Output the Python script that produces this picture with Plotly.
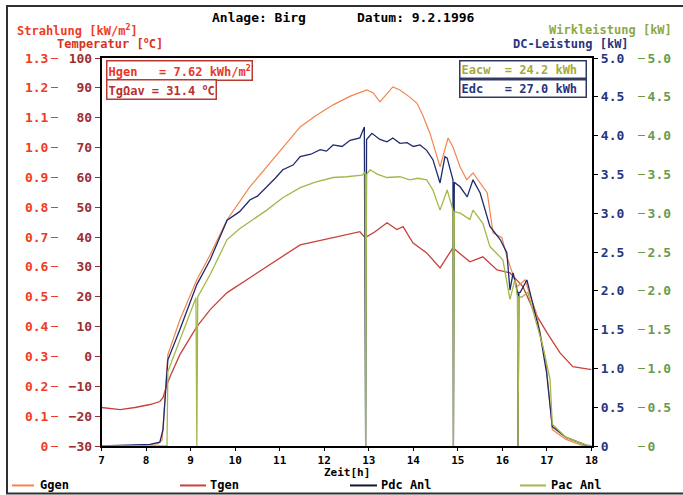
import plotly.graph_objects as go

# ---------------- data ----------------
hour_ticks = [7, 8, 9, 10, 11, 12, 13, 14, 15, 16, 17, 18]

# Ggen - irradiance [kW/m2]
t_ggen = [7.0, 7.9, 8.1, 8.27, 8.36, 8.38, 8.45, 8.49, 8.76, 9.14, 9.44, 9.82, 10.33, 10.71,
          11.07, 11.46, 11.8, 12.2, 12.6, 12.96, 13.1, 13.25, 13.54, 13.7, 13.92, 14.08, 14.21,
          14.37, 14.44, 14.6, 14.78, 14.89, 15.05, 15.2, 15.34, 15.5, 15.66, 15.79, 15.99, 16.1,
          16.22, 16.33, 16.51, 16.6, 16.76, 16.98, 17.12, 17.43, 17.79, 17.97]
ggen = [0, 0, 0.005, 0.008, 0.02, 0.055, 0.222, 0.306, 0.423, 0.557, 0.641, 0.758, 0.868, 0.935,
        1.002, 1.069, 1.106, 1.143, 1.173, 1.193, 1.183, 1.153, 1.203, 1.193, 1.169, 1.149, 1.109,
        1.049, 1.015, 0.935, 1.032, 1.002, 0.935, 0.892, 0.915, 0.882, 0.848, 0.714, 0.698, 0.634,
        0.581, 0.534, 0.557, 0.514, 0.447, 0.279, 0.055, 0.022, 0.002, 0]

# Tgen - module temperature [deg C]
t_tgen = [7.0, 7.42, 7.75, 8.09, 8.31, 8.38, 8.47, 8.54, 8.76, 9.14, 9.44, 9.82, 10.33, 10.71,
          11.07, 11.46, 12.2, 12.8, 12.92, 13.14, 13.41, 13.63, 13.77, 13.99, 14.3, 14.6, 14.89,
          15.27, 15.56, 15.88, 16.17, 16.46, 16.69, 17.0, 17.29, 17.58, 18.0]
tgen = [-17.1, -17.8, -17.1, -16.1, -15.1, -13.8, -9.4, -6.7, 0.6, 10.0, 15.7, 21.4, 26.4, 30.1,
        33.7, 37.4, 39.8, 41.8, 39.8, 41.8, 44.8, 42.5, 43.5, 38.1, 34.7, 29.7, 36.4,
        31.7, 33.4, 29.0, 28.0, 23.4, 15.7, 8.0, 1.3, -3.4, -4.4]

# Pdc Anl - DC power [kW]
t_pdc = [7.0, 8.09, 8.31, 8.38, 8.45, 8.49, 8.76, 9.14, 9.44, 9.82, 10.1, 10.33, 10.5, 10.71,
         10.9, 11.07, 11.3, 11.46, 11.7, 11.91, 12.05, 12.2, 12.4, 12.58, 12.8, 12.9, 12.93,
         12.95, 13.07, 13.25, 13.41, 13.54, 13.7, 13.86, 14.0, 14.15, 14.3, 14.44, 14.6, 14.71,
         14.76, 14.89, 14.9, 14.92, 15.05, 15.21, 15.34, 15.5, 15.72, 15.95, 16.1, 16.17, 16.24,
         16.34, 16.35, 16.37, 16.4, 16.55, 16.66, 16.84, 16.99, 17.12, 17.43, 17.88, 18.0]
pdc = [0, 0.02, 0.05, 0.21, 0.79, 1.11, 1.50, 2.08, 2.40, 2.91, 3.02, 3.17, 3.22, 3.34,
       3.45, 3.56, 3.62, 3.73, 3.76, 3.82, 3.80, 3.88, 3.86, 3.94, 3.97, 4.11, 0,
       3.95, 4.03, 3.95, 3.92, 3.97, 3.90, 3.91, 3.86, 3.88, 3.81, 3.69, 3.39, 3.73,
       3.71, 3.43, 0, 3.40, 3.34, 3.21, 3.43, 3.26, 2.83, 2.66, 2.49, 2.01, 2.23,
       1.98, 0, 1.98, 1.98, 2.14, 1.89, 1.46, 0.95, 0.25, 0.11, 0.01, 0]

# Pac Anl - AC power [kW]
t_pac = [7.0, 8.31, 8.47, 8.49, 8.76, 9.12, 9.14, 9.16, 9.44, 9.82, 10.1, 10.33, 10.71, 11.07,
         11.46, 11.8, 12.2, 12.5, 12.85, 12.92, 12.93, 12.95, 13.03, 13.2, 13.41, 13.7, 13.92,
         14.1, 14.3, 14.44, 14.6, 14.76, 14.89, 14.9, 14.92, 15.05, 15.27, 15.34, 15.56, 15.72,
         16.01, 16.17, 16.28, 16.34, 16.35, 16.37, 16.44, 16.57, 16.69, 16.91, 17.07, 17.12,
         17.43, 17.88, 18.0]
pac = [0, 0, 0, 0.96, 1.37, 1.91, 0, 1.92, 2.21, 2.66, 2.80, 2.89, 3.04, 3.20,
       3.33, 3.40, 3.46, 3.47, 3.49, 3.53, 0, 3.50, 3.56, 3.50, 3.46, 3.47, 3.43,
       3.45, 3.43, 3.30, 3.04, 3.30, 3.04, 0, 3.02, 3.00, 2.92, 3.04, 2.87, 2.57,
       2.40, 1.89, 2.14, 1.92, 0, 1.92, 1.92, 1.98, 1.72, 1.28, 0.86, 0.28,
       0.11, 0.01, 0]

strahlung_ticks = [0, 0.1, 0.2, 0.3, 0.4, 0.5, 0.6, 0.7, 0.8, 0.9, 1.0, 1.1, 1.2, 1.3]
strahlung_labels = ["0", "0.1", "0.2", "0.3", "0.4", "0.5", "0.6", "0.7", "0.8", "0.9",
                    "1.0", "1.1", "1.2", "1.3"]
temp_ticks = [-30, -20, -10, 0, 10, 20, 30, 40, 50, 60, 70, 80, 90, 100]
power_ticks = [0, 0.5, 1.0, 1.5, 2.0, 2.5, 3.0, 3.5, 4.0, 4.5, 5.0]
power_labels = ["0", "0.5", "1.0", "1.5", "2.0", "2.5", "3.0", "3.5", "4.0", "4.5", "5.0"]

# ---------------- styling ----------------
FONT = "DejaVu Sans Mono"
C_GGEN = "#f4844e"
C_TGEN = "#c8423c"
C_PDC = "#1f2a6c"
C_PAC = "#a2b84a"
C_STRAHL = "#f03c1e"
C_TEMP = "#9c3030"
C_DCLAB = "#26367e"
C_ACLAB = "#6c9a4c"

W, H = 683, 495
ML, MR, MT, MB = 10, 5, 58, 48.5
PW = W - ML - MR
PH = H - MT - MB


def px(x):
    return (x - ML) / PW


def py(y):
    return (H - MB - y) / PH


def f(size=12, color="black"):
    return dict(family=FONT, size=size, color=color, weight="bold")


fig = go.Figure()
fig.add_trace(go.Scatter(x=t_ggen, y=ggen, yaxis="y2", mode="lines", name="Ggen",
                         line=dict(color=C_GGEN, width=1.2)))
fig.add_trace(go.Scatter(x=t_tgen, y=tgen, yaxis="y", mode="lines", name="Tgen",
                         line=dict(color=C_TGEN, width=1.3)))
fig.add_trace(go.Scatter(x=t_pac, y=pac, yaxis="y4", mode="lines", name="Pac Anl",
                         line=dict(color=C_PAC, width=1.3)))
fig.add_trace(go.Scatter(x=t_pdc, y=pdc, yaxis="y3", mode="lines", name="Pdc Anl",
                         line=dict(color=C_PDC, width=1.3)))

x0, x1 = px(101.5), px(591.5)

fig.update_layout(
    width=W, height=H, autosize=False,
    margin=dict(l=ML, r=MR, t=MT, b=MB, autoexpand=False),
    paper_bgcolor="white", plot_bgcolor="white",
    showlegend=False,
    xaxis=dict(domain=[x0, x1], range=[7, 18], tickvals=hour_ticks, automargin=False,
               ticks="outside", ticklen=3, tickcolor="black", showgrid=False, zeroline=False,
               showline=True, linecolor="black", linewidth=1.5, mirror=True,
               tickfont=f(11)),
    yaxis=dict(range=[-30, 100], tickvals=temp_ticks, side="left", anchor="x",
               automargin=False,
               ticks="outside", ticklen=5, tickcolor=C_TEMP, showgrid=False, zeroline=False,
               showline=True, linecolor="black", linewidth=1.5,
               tickfont=f(13, C_TEMP)),
    yaxis2=dict(range=[0, 1.3], tickvals=strahlung_ticks, ticktext=strahlung_labels,
                overlaying="y", side="left", anchor="free", position=px(58), automargin=False,
                ticks="outside", ticklen=7, tickcolor=C_STRAHL, showgrid=False,
                zeroline=False, showline=False, tickfont=f(13, C_STRAHL)),
    yaxis3=dict(range=[0, 5], tickvals=power_ticks, ticktext=power_labels,
                overlaying="y", side="right", anchor="x", automargin=False,
                ticks="outside", ticklen=5, tickcolor="black", showgrid=False,
                zeroline=False, showline=True, linecolor="black", linewidth=1.5,
                tickfont=f(13, C_DCLAB)),
    yaxis4=dict(range=[0, 5], tickvals=power_ticks, ticktext=power_labels,
                overlaying="y", side="right", anchor="free", position=px(637),
                automargin=False,
                ticks="outside", ticklen=7, tickcolor=C_ACLAB, showgrid=False,
                zeroline=False, showline=False, tickfont=f(13, C_ACLAB)),
)

ann = []
# header texts
ann.append(dict(text="Anlage: Birg", x=px(210), y=py(17), xanchor="left", font=f(13)))
ann.append(dict(text="Datum: 9.2.1996", x=px(355), y=py(17), xanchor="left", font=f(13)))
ann.append(dict(text="Strahlung [kW/m<sup>2</sup>]", x=px(15), y=py(30), xanchor="left",
                font=f(12, C_STRAHL)))
ann.append(dict(text="Temperatur [<sup>o</sup>C]", x=px(55), y=py(43), xanchor="left",
                font=f(12, "#d83422")))
ann.append(dict(text="Wirkleistung [kW]", x=px(674), y=py(30), xanchor="right",
                font=f(12, "#8ca844")))
ann.append(dict(text="DC-Leistung [kW]", x=px(631), y=py(44), xanchor="right",
                font=f(12, C_DCLAB)))
# x axis title
ann.append(dict(text="Zeit[h]", x=(x0 + x1) / 2, y=py(473), xanchor="center", font=f(11)))
# boxes
ann.append(dict(text="Hgen   = 7.62 kWh/m<sup>2</sup>", x=px(106), y=py(60), xanchor="left",
                yanchor="top", font=f(12, "#e8382a"), bordercolor="#b83a30", borderwidth=1.5,
                borderpad=1, bgcolor="white"))
ann.append(dict(text="TgΩav = 31.4 <sup>o</sup>C", x=px(106), y=py(79), xanchor="left",
                yanchor="top", font=f(12, "#b83030"), bordercolor="#b83a30", borderwidth=1.5,
                borderpad=1, bgcolor="white"))
ann.append(dict(text="Eacw  = 24.2 kWh ", x=px(587), y=py(60), xanchor="right",
                yanchor="top", font=f(12, "#a4aa38"), bordercolor="#303a60", borderwidth=1.5,
                borderpad=1, bgcolor="white"))
ann.append(dict(text="Edc   = 27.0 kWh ", x=px(587), y=py(79), xanchor="right",
                yanchor="top", font=f(12, C_DCLAB), bordercolor="#303a60", borderwidth=1.5,
                borderpad=1, bgcolor="white"))
# bottom legend texts
leg_items = [("Ggen", C_GGEN, 12, 34, 38), ("Tgen", C_TGEN, 180, 206, 208),
             ("Pdc Anl", "#101830", 350, 377, 379), ("Pac Anl", C_PAC, 520, 546, 549)]
shapes = []
for name, col, lx0, lx1, tx in leg_items:
    ann.append(dict(text=name, x=px(tx), y=py(486), xanchor="left", font=f(12)))
    shapes.append(dict(type="line", xref="paper", yref="paper", x0=px(lx0), x1=px(lx1),
                       y0=py(486), y1=py(486), line=dict(color=col, width=2)))

for a in ann:
    a.setdefault("xref", "paper")
    a.setdefault("yref", "paper")
    a.setdefault("showarrow", False)
    a.setdefault("yanchor", "middle")

# outer frame of the print-out
shapes.append(dict(type="rect", xref="paper", yref="paper", x0=px(7), x1=px(700),
                   y0=py(494), y1=py(6), line=dict(color="#303030", width=2)))

fig.update_layout(annotations=ann, shapes=shapes)
fig.write_html("out.html", config={"displayModeBar": False},
               post_script="document.body.style.margin='0px';document.body.style.overflow='hidden';")
